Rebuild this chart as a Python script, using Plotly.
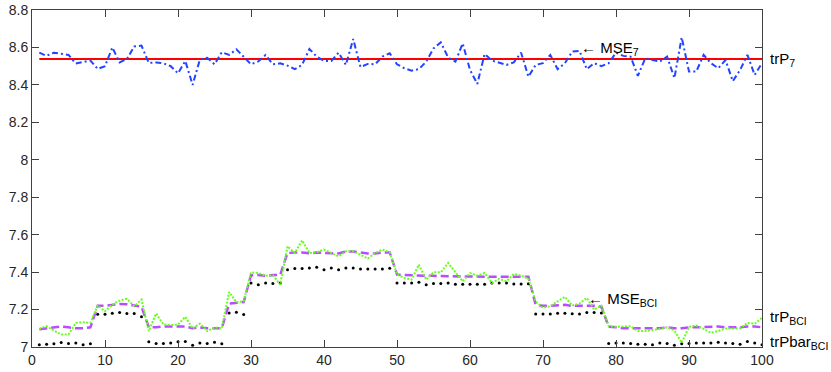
import plotly.graph_objects as go

# ==========================
# DATA
# ==========================

samples = list(range(1, 101))

trP_7 = 8.538

mse_7 = [
    8.572, 8.555, 8.572, 8.565, 8.560, 8.514, 8.520, 8.530, 8.485, 8.500,
    8.600, 8.520, 8.538, 8.605, 8.610, 8.517, 8.520, 8.515, 8.500, 8.462,
    8.528, 8.400, 8.535, 8.545, 8.510, 8.575, 8.560, 8.590, 8.550, 8.510,
    8.525, 8.560, 8.510, 8.515, 8.503, 8.484, 8.507, 8.592, 8.551, 8.528,
    8.528, 8.572, 8.507, 8.645, 8.495, 8.512, 8.510, 8.551, 8.569, 8.510,
    8.489, 8.476, 8.484, 8.524, 8.595, 8.627, 8.547, 8.524, 8.622, 8.480,
    8.405, 8.565, 8.530, 8.520, 8.507, 8.520, 8.572, 8.444, 8.507, 8.516,
    8.560, 8.484, 8.516, 8.578, 8.582, 8.484, 8.516, 8.500, 8.516, 8.572,
    8.555, 8.551, 8.448, 8.542, 8.533, 8.524, 8.551, 8.436, 8.654, 8.471,
    8.471, 8.560, 8.516, 8.489, 8.533, 8.420, 8.480, 8.560, 8.453, 8.516,
]

trP_bci = [
    7.095, 7.100, 7.105, 7.110, 7.105, 7.100, 7.100, 7.105,
    7.220, 7.220, 7.225, 7.230, 7.228, 7.222, 7.215,
    7.105, 7.105, 7.110, 7.110, 7.112, 7.110, 7.100, 7.105, 7.100, 7.100, 7.100,
    7.232, 7.235, 7.240,
    7.383, 7.385, 7.380, 7.385, 7.385,
    7.502, 7.505, 7.505, 7.500, 7.505, 7.502, 7.500, 7.500, 7.510, 7.510,
    7.505, 7.500, 7.500, 7.505, 7.505,
    7.387, 7.385, 7.382, 7.380, 7.380, 7.380, 7.378, 7.378, 7.376, 7.376,
    7.376, 7.376, 7.376, 7.376, 7.376, 7.376, 7.376, 7.376, 7.375,
    7.225, 7.220, 7.220, 7.222, 7.225, 7.220, 7.220, 7.220, 7.220, 7.215,
    7.108, 7.105, 7.100, 7.100, 7.100, 7.098, 7.098, 7.100, 7.105, 7.100,
    7.100, 7.105, 7.105, 7.108, 7.110, 7.110, 7.105, 7.105, 7.105, 7.110,
    7.110, 7.105,
]

mse_bci = [
    7.097, 7.111, 7.088, 7.067, 7.067, 7.129, 7.132, 7.129, 7.221, 7.191,
    7.227, 7.248, 7.257, 7.218, 7.253, 7.085, 7.179, 7.120, 7.117, 7.120,
    7.161, 7.099, 7.125, 7.085, 7.105, 7.100, 7.294, 7.239, 7.244, 7.399,
    7.395, 7.381, 7.383, 7.333, 7.538, 7.502, 7.570, 7.502, 7.506, 7.520,
    7.502, 7.484, 7.511, 7.511, 7.493, 7.472, 7.502, 7.520, 7.506, 7.387,
    7.369, 7.360, 7.440, 7.360, 7.399, 7.399, 7.449, 7.399, 7.351, 7.395,
    7.381, 7.395, 7.342, 7.364, 7.351, 7.391, 7.381, 7.365, 7.244, 7.209,
    7.218, 7.244, 7.268, 7.221, 7.232, 7.262, 7.200, 7.221, 7.111, 7.108,
    7.108, 7.111, 7.085, 7.085, 7.090, 7.097, 7.105, 7.088, 7.022, 7.108,
    7.115, 7.097, 7.076, 7.085, 7.099, 7.099, 7.100, 7.129, 7.124, 7.156,
]

trPbar_bci = [
    7.012, 7.015, 7.017, 7.024, 7.019, 7.022, 7.012, 7.017,
    7.175, 7.175, 7.180, 7.184, 7.179, 7.179, 7.161,
    7.028, 7.019, 7.019, 7.021, 7.028, 7.029, 7.010, 7.022, 7.019, 7.026, 7.017,
    7.182, 7.186, 7.173,
    7.342, 7.333, 7.342, 7.339, 7.342,
    7.413, 7.419, 7.419, 7.422, 7.426, 7.413, 7.422, 7.413, 7.422, 7.422,
    7.417, 7.417, 7.417, 7.417, 7.420,
    7.342, 7.342, 7.342, 7.346, 7.333, 7.339, 7.339, 7.342, 7.335, 7.335,
    7.335, 7.335, 7.335, 7.342, 7.342, 7.342, 7.337, 7.337, 7.338,
    7.176, 7.176, 7.176, 7.180, 7.180, 7.178, 7.176, 7.184, 7.184, 7.181,
    7.019, 7.021, 7.022, 7.019, 7.015, 7.015, 7.012, 7.022, 7.019, 7.010,
    7.017, 7.019, 7.022, 7.022, 7.022, 7.026, 7.022, 7.019, 7.015, 7.029,
    7.022, 7.012,
]

x_ticks = [0, 10, 20, 30, 40, 50, 60, 70, 80, 90, 100]
y_ticks = [7, 7.2, 7.4, 7.6, 7.8, 8, 8.2, 8.4, 8.6, 8.8]
y_labels = ["7", "7.2", "7.4", "7.6", "7.8", "8", "8.2", "8.4", "8.6", "8.8"]

FONT = "Arial, Liberation Sans, sans-serif"
AXIS = "#404040"

# ==========================
# TRACES
# ==========================

fig = go.Figure()

fig.add_trace(go.Scatter(
    x=[samples[0], samples[-1]], y=[trP_7, trP_7],
    mode="lines", line=dict(color="#ff0000", width=2)
))

fig.add_trace(go.Scatter(
    x=samples, y=mse_7,
    mode="lines", line=dict(color="#2244ff", width=2, dash="6px,3px,2px,3px")
))

fig.add_trace(go.Scatter(
    x=samples, y=trPbar_bci,
    mode="markers", marker=dict(color="black", size=3)
))

fig.add_trace(go.Scatter(
    x=samples, y=trP_bci,
    mode="lines", line=dict(color="#b84dff", width=2.5, dash="8px,4px")
))

fig.add_trace(go.Scatter(
    x=samples, y=mse_bci,
    mode="lines", line=dict(color="#66ff1a", width=2, dash="2px,1.5px")
))

# ==========================
# TEXT LABELS
# ==========================

# arrows pointing at the curves (inside the axes)
inner_labels = [
    ("\u2190 MSE<sub>7</sub>", 75, 8.597),
    ("\u2190 MSE<sub>BCI</sub>", 76, 7.255),
]
for txt, lx, ly in inner_labels:
    fig.add_annotation(
        text=txt, x=lx, y=ly, xref="x", yref="y",
        xanchor="left", yanchor="middle", showarrow=False,
        font=dict(family=FONT, size=15, color="black"),
        borderpad=0
    )

# curve names to the right of the axes
outer_labels = [
    ("trP<sub>7</sub>", trP_7),
    ("trP<sub>BCI</sub>", 7.16),
    ("trPbar<sub>BCI</sub>", 7.025),
]
for txt, ly in outer_labels:
    fig.add_annotation(
        text=txt, x=1, y=ly, xref="paper", yref="y", xshift=7,
        xanchor="left", yanchor="middle", showarrow=False,
        font=dict(family=FONT, size=15, color="black"),
        borderpad=0
    )

# ==========================
# LAYOUT
# ==========================

fig.update_layout(
    width=831,
    height=372,
    margin=dict(l=32, r=69, t=10, b=25),
    plot_bgcolor="white",
    paper_bgcolor="white",
    showlegend=False,
    font=dict(family=FONT, size=14, color="#262626"),
    xaxis=dict(
        range=[0, 100], tickvals=x_ticks, automargin=False,
        ticks="inside", ticklen=7, tickcolor=AXIS,
        showline=True, linecolor=AXIS, linewidth=1, mirror="ticks",
        showgrid=False, zeroline=False
    ),
    yaxis=dict(
        range=[7, 8.8], tickvals=y_ticks, ticktext=y_labels, automargin=False,
        ticks="inside", ticklen=7, tickcolor=AXIS,
        showline=True, linecolor=AXIS, linewidth=1, mirror="ticks",
        showgrid=False, zeroline=False
    ),
)

# drop the page's default body margin so the figure fills the window exactly
fig.write_html(
    "out.html",
    config={"displayModeBar": False},
    post_script="document.body.style.margin='0';"
)
